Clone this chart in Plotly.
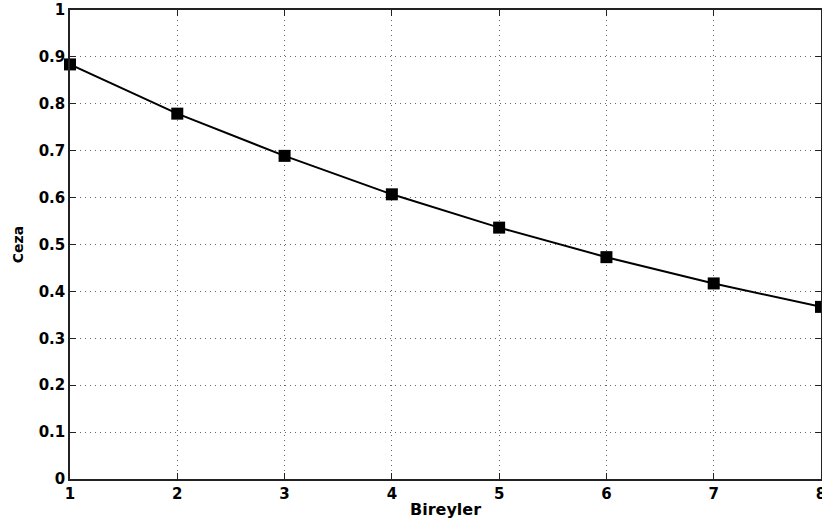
import plotly.graph_objects as go

bireyler = [1, 2, 3, 4, 5, 6, 7, 8]
ceza = [0.884, 0.779, 0.689, 0.607, 0.536, 0.473, 0.417, 0.367]

x_ticks = [1, 2, 3, 4, 5, 6, 7, 8]
y_ticks = [0, 0.1, 0.2, 0.3, 0.4, 0.5, 0.6, 0.7, 0.8, 0.9, 1]
y_tick_text = ["0", "0.1", "0.2", "0.3", "0.4", "0.5", "0.6", "0.7", "0.8", "0.9", "1"]

TICKFONT = "DejaVu Sans, sans-serif"

fig = go.Figure()
fig.add_trace(go.Scatter(
    x=bireyler, y=ceza, mode="lines+markers",
    line=dict(color="black", width=2),
    marker=dict(symbol="square", size=12, color="black"),
    cliponaxis=False, showlegend=False, hoverinfo="skip",
))

axis_common = dict(
    showline=True, linecolor="#222", linewidth=1.5, mirror="ticks",
    ticks="inside", ticklen=6, tickcolor="#222", tickwidth=1,
    showgrid=True, gridcolor="#666", griddash="1px,4px", gridwidth=1,
    zeroline=False, automargin=False, ticklabeloverflow="allow",
    tickfont=dict(family=TICKFONT, size=15, color="black", weight="bold"),
)

fig.update_layout(
    width=822, height=525,
    margin=dict(l=70, r=1, t=10, b=46),
    paper_bgcolor="white", plot_bgcolor="white",
    xaxis=dict(range=[1, 8], tickvals=x_ticks, **axis_common,
               title=dict(text="Bireyler", standoff=2,
                          font=dict(family=TICKFONT, size=16, color="black", weight="bold"))),
    yaxis=dict(range=[0, 1], tickvals=y_ticks, ticktext=y_tick_text, **axis_common,
               title=dict(text="Ceza", standoff=12,
                          font=dict(family=TICKFONT, size=14, color="black", weight="bold"))),
)

fig.write_html(
    "out.html",
    config={"displayModeBar": False},
    post_script="document.body.style.margin='0';document.body.style.overflow='hidden';",
)
